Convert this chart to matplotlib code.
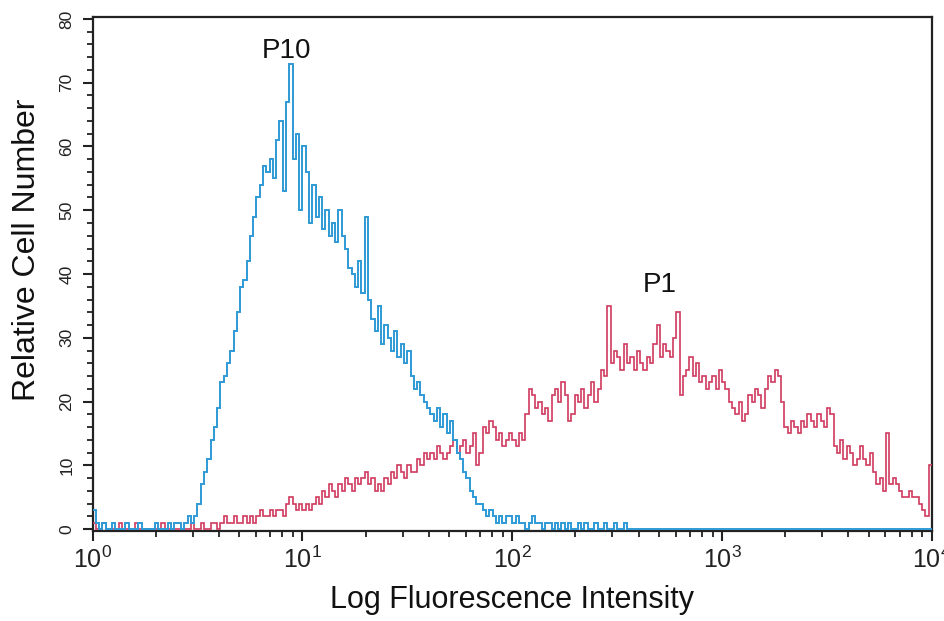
import numpy as np
import matplotlib
matplotlib.use("Agg")
import matplotlib.pyplot as plt
from matplotlib.ticker import MultipleLocator, LogLocator, NullFormatter

plt.rcParams['font.family'] = ['Liberation Sans', 'DejaVu Sans']

# 256 channels spanning 4 log decades (64 channels per decade)
n_channels = 256
decades = 4

p10_counts = [
    3, 1, 0, 1, 0, 0, 1, 0, 0, 0, 1, 0, 0, 0, 1, 0,
    0, 0, 0, 1, 0, 0, 0, 1, 0, 1, 1, 0, 1, 2, 1, 2,
    4, 7, 9, 11, 14, 16, 19, 23, 24, 26, 28, 31, 34, 38, 39, 42,
    46, 49, 52, 54, 57, 56, 58, 55, 61, 64, 53, 67, 73, 58, 62, 50,
    60, 56, 48, 54, 49, 52, 47, 50, 46, 48, 45, 50, 46, 44, 41, 40,
    38, 42, 37, 49, 36, 33, 31, 35, 29, 32, 30, 28, 31, 27, 29, 26,
    28, 24, 22, 23, 21, 20, 19, 18, 17, 19, 16, 18, 15, 17, 14, 12,
    11, 9, 8, 6, 5, 4, 4, 3, 2, 3, 2, 1, 2, 1, 2, 2,
    1, 2, 1, 1, 0, 1, 2, 1, 1, 0, 1, 1, 0, 1, 0, 1,
    0, 1, 0, 0, 1, 0, 1, 0, 0, 1, 0, 0, 1, 0, 0, 1,
    0, 0, 1, 0, 0, 0, 0, 0, 0, 0, 0, 0, 0, 0, 0, 0,
    0, 0, 0, 0, 0, 0, 0, 0, 0, 0, 0, 0, 0, 0, 0, 0,
    0, 0, 0, 0, 0, 0, 0, 0, 0, 0, 0, 0, 0, 0, 0, 0,
    0, 0, 0, 0, 0, 0, 0, 0, 0, 0, 0, 0, 0, 0, 0, 0,
    0, 0, 0, 0, 0, 0, 0, 0, 0, 0, 0, 0, 0, 0, 0, 0,
    0, 0, 0, 0, 0, 0, 0, 0, 0, 0, 0, 0, 0, 0, 0, 0,
]

p1_counts = [
    1, 0, 0, 1, 0, 0, 0, 0, 1, 0, 0, 0, 0, 1, 0, 0,
    0, 0, 0, 0, 0, 1, 0, 0, 0, 0, 0, 0, 0, 0, 1, 0,
    0, 1, 0, 0, 1, 1, 0, 1, 2, 1, 1, 2, 1, 1, 2, 1,
    2, 1, 2, 3, 2, 2, 3, 2, 3, 3, 2, 4, 5, 4, 3, 4,
    3, 4, 3, 4, 5, 4, 6, 5, 7, 6, 5, 7, 6, 8, 7, 6,
    8, 7, 8, 9, 7, 8, 6, 7, 6, 8, 7, 9, 8, 10, 9, 8,
    10, 9, 9, 11, 10, 12, 11, 12, 11, 13, 12, 11, 12, 13, 14, 12,
    13, 14, 12, 13, 15, 10, 12, 16, 15, 17, 16, 14, 15, 13, 14, 15,
    14, 13, 15, 14, 18, 22, 21, 19, 20, 18, 19, 17, 21, 22, 20, 23,
    21, 17, 18, 21, 20, 22, 19, 21, 23, 20, 22, 25, 24, 35, 26, 28,
    27, 25, 29, 26, 27, 25, 28, 26, 25, 27, 26, 29, 32, 27, 29, 28,
    27, 30, 34, 21, 24, 25, 27, 24, 26, 23, 24, 22, 23, 24, 22, 25,
    23, 22, 20, 19, 18, 20, 17, 18, 21, 20, 22, 21, 19, 22, 24, 23,
    25, 24, 20, 16, 15, 17, 16, 15, 17, 16, 18, 17, 16, 18, 17, 16,
    19, 18, 13, 12, 14, 11, 13, 12, 10, 11, 13, 11, 10, 12, 9, 7,
    8, 6, 15, 7, 8, 7, 6, 5, 5, 6, 5, 5, 4, 3, 2, 10,
]

labels = ["P10", "P1"]
label_pos = [(8.4, 73.9), (505, 37.2)]
colors = ["#2e9ad6", "#cf3a5e"]

edges = np.logspace(0, decades, n_channels + 1)

fig = plt.figure(figsize=(9.44, 6.21), dpi=100)
ax = fig.add_axes([0.098, 0.1449, 0.8893, 0.8277])

ax.stairs(p1_counts, edges, color=colors[1], lw=1.2, baseline=None, zorder=3)
ax.stairs(p10_counts, edges, color=colors[0], lw=1.4, baseline=None, zorder=4)

for lab, (x, y) in zip(labels, label_pos):
    ax.text(x, y, lab, fontsize=20, ha="center", va="baseline", color="#111111")

ax.set_xscale("log")
ax.set_xlim(1, 1e4)
ax.set_ylim(-0.3, 80.3)

ax.xaxis.set_major_locator(LogLocator(base=10, numticks=10))
ax.xaxis.set_minor_locator(LogLocator(base=10, subs=np.arange(2, 10), numticks=50))
ax.xaxis.set_minor_formatter(NullFormatter())
ax.yaxis.set_major_locator(MultipleLocator(10))
ax.yaxis.set_minor_locator(MultipleLocator(2))

ax.tick_params(axis="both", which="major", direction="out", length=7, width=1.5, colors="#222222")
ax.tick_params(axis="both", which="minor", direction="out", length=4, width=1.3, colors="#222222")
ax.tick_params(axis="x", which="major", labelsize=18, pad=4, labelcolor="#222222")
ax.tick_params(axis="y", which="major", labelsize=12.5, pad=6, labelcolor="#222222")
for lbl in ax.get_yticklabels():
    lbl.set_rotation(90)
    lbl.set_va("center")

for sp in ax.spines.values():
    sp.set_linewidth(1.6)
    sp.set_color("#222222")

ax.set_xlabel("Log Fluorescence Intensity", fontsize=22, labelpad=9, color="#111111")
ax.set_ylabel("Relative Cell Number", fontsize=23, color="#111111")
ax.yaxis.set_label_coords(-0.060, 0.547)

fig.savefig("out.png", dpi=100)
